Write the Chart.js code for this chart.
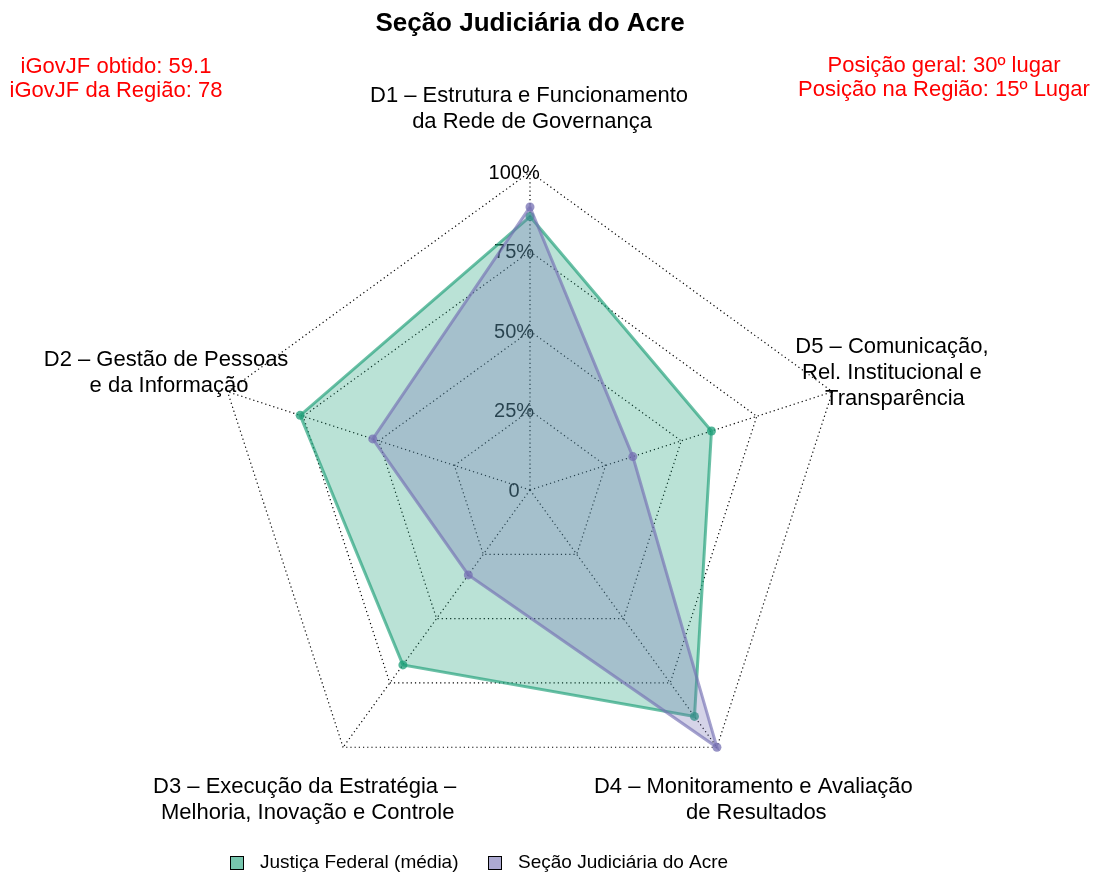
<!DOCTYPE html>
<html>
<head>
<meta charset="utf-8">
<script src="https://cdn.jsdelivr.net/npm/chart.js@4/dist/chart.umd.min.js"></script>
<style>html,body{margin:0;padding:0;background:#fff}</style>
</head>
<body>
<canvas id="c" width="1101" height="878" style="display:block;width:1101px;height:878px"></canvas>
<script>
// Axis categories in Chart.js (clockwise) order: D1 (top), D5, D4, D3, D2
const categories = [
  ["D1 – Estrutura e Funcionamento", "da Rede de Governança"],
  ["D5 – Comunicação,", "Rel. Institucional e", "Transparência"],
  ["D4 – Monitoramento e Avaliação", "de Resultados"],
  ["D3 – Execução da Estratégia –", "Melhoria, Inovação e Controle"],
  ["D2 – Gestão de Pessoas", "e da Informação"]
];
const justicaFederal = [86, 60, 88, 68, 76];
const secaoAcre = [89, 34, 100, 33, 52];
const tickValues = [0, 25, 50, 75, 100];
const tickLabels = ["0", "25%", "50%", "75%", "100%"];
const seriesNames = ["Justiça Federal (média)", "Seção Judiciária do Acre"];
const titleText = "Seção Judiciária do Acre";
const leftNotes = ["iGovJF obtido: 59.1", "iGovJF da Região: 78"];
const rightNotes = ["Posição geral: 30º lugar", "Posição na Região: 15º Lugar"];

const FONT = '"Liberation Sans", Arial, Helvetica, sans-serif';
const green = [27, 158, 119];
const purple = [117, 112, 179];
const rgba = (c, a) => `rgba(${c[0]},${c[1]},${c[2]},${a})`;

function txt(ctx, s, x, y, font, color, align) {
  ctx.font = font;
  ctx.fillStyle = color;
  ctx.textAlign = align || 'center';
  ctx.textBaseline = 'middle';
  ctx.fillText(s, x, y);
}

const decor = {
  id: 'decor',
  beforeDatasetsDraw(chart) {
    const ctx = chart.ctx, s = chart.scales.r;
    ctx.save();
    tickValues.forEach((v, i) => {
      const d = s.getDistanceFromCenterForValue(v);
      txt(ctx, tickLabels[i], s.xCenter - 0.05 * s.drawingArea, s.yCenter - d + 1, '20px ' + FONT, '#000');
    });
    ctx.restore();
  },
  afterDraw(chart) {
    const ctx = chart.ctx, s = chart.scales.r;
    ctx.save();
    // title
    txt(ctx, titleText, 530, 24, 'bold 26px ' + FONT, '#000');
    // red notes
    leftNotes.forEach((t, j) => txt(ctx, t, 116, 67 + j * 24, '22px ' + FONT, '#ff0000'));
    rightNotes.forEach((t, j) => txt(ctx, t, 944, 66 + j * 24, '22px ' + FONT, '#ff0000'));
    // axis labels
    categories.forEach((lines, i) => {
      const p = s.getPointPosition(i, s.drawingArea * 1.2);
      const n = lines.length;
      lines.forEach((ln, j) => {
        const y = p.y + 1 + (j - (n - 1) / 2) * 26;
        const x = p.x + 2 + (j < n - 1 ? -3 : 0);
        txt(ctx, ln, x, y, '22px ' + FONT, '#000');
      });
    });
    // legend
    const items = [[230.5, 260, green], [488.5, 518, purple]];
    items.forEach((it, k) => {
      ctx.fillStyle = rgba(it[2], 0.6);
      ctx.fillRect(it[0], 856.5, 13, 13);
      ctx.strokeStyle = '#000';
      ctx.lineWidth = 1;
      ctx.strokeRect(it[0], 856.5, 13, 13);
      txt(ctx, seriesNames[k], it[1], 863, '19px ' + FONT, '#000', 'left');
    });
    ctx.restore();
  }
};

new Chart(document.getElementById('c'), {
  type: 'radar',
  data: {
    labels: categories,
    datasets: [
      {
        label: seriesNames[0],
        data: justicaFederal,
        order: 2,
        borderColor: rgba(green, 0.65),
        backgroundColor: rgba(green, 0.3),
        borderWidth: 3,
        fill: true,
        tension: 0,
        pointRadius: 4.5,
        pointBorderWidth: 0,
        pointBackgroundColor: rgba(green, 0.75)
      },
      {
        label: seriesNames[1],
        data: secaoAcre,
        order: 1,
        borderColor: rgba(purple, 0.65),
        backgroundColor: rgba(purple, 0.3),
        borderWidth: 3,
        fill: true,
        tension: 0,
        pointRadius: 4.5,
        pointBorderWidth: 0,
        pointBackgroundColor: rgba(purple, 0.75)
      }
    ]
  },
  options: {
    responsive: false,
    animation: false,
    devicePixelRatio: 1,
    layout: { padding: { left: 212, right: 253, top: 172, bottom: 70 } },
    plugins: { legend: { display: false }, tooltip: { enabled: false }, title: { display: false } },
    scales: {
      r: {
        min: 0,
        max: 100,
        ticks: { display: false, stepSize: 25 },
        pointLabels: { display: false },
        grid: { color: '#000', lineWidth: 1.2, borderDash: [1.2, 3] },
        border: { dash: [1.2, 3] },
        angleLines: { color: '#000', lineWidth: 1.2, borderDash: [1.2, 3] }
      }
    }
  },
  plugins: [decor]
});
</script>
</body>
</html>
